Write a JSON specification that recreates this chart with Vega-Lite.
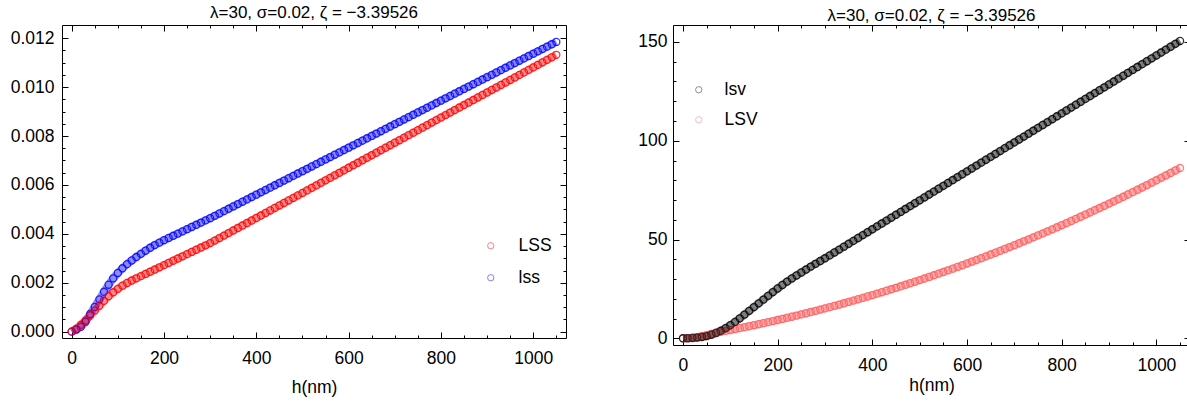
{
"$schema": "https://vega.github.io/schema/vega-lite/v6.json",
"autosize": {"type": "pad"},
"padding": {"left": 9, "top": 3, "right": 1, "bottom": 0},
"background": "white",
"config": {
  "font": "Liberation Sans",
  "view": {"stroke": "black", "strokeWidth": 1},
  "axis": {"labelFont": "Liberation Sans", "titleFont": "Liberation Sans", "labelColor": "black", "titleColor": "black", "tickColor": "black", "tickWidth": 1, "grid": false},
  "legend": {"labelFont": "Liberation Sans", "labelColor": "black"},
  "concat": {"spacing": 64}
},
"resolve": {"scale": {"color": "independent", "stroke": "independent"}, "legend": {"color": "independent"}},
"datasets": {
"left": [
{"h":0,"v":0,"s":"lss"},{"h":10,"v":0.00008,"s":"lss"},{"h":20,"v":0.0002,"s":"lss"},{"h":30,"v":0.0004,"s":"lss"},{"h":40,"v":0.00072,"s":"lss"},{"h":50,"v":0.00101,"s":"lss"},{"h":60,"v":0.00132,"s":"lss"},{"h":70,"v":0.00163,"s":"lss"},{"h":80,"v":0.00192,"s":"lss"},{"h":90,"v":0.00218,"s":"lss"},
{"h":100,"v":0.0024,"s":"lss"},{"h":110,"v":0.00259,"s":"lss"},{"h":120,"v":0.00276,"s":"lss"},{"h":130,"v":0.00291,"s":"lss"},{"h":140,"v":0.00305,"s":"lss"},{"h":150,"v":0.00318,"s":"lss"},{"h":160,"v":0.00331,"s":"lss"},{"h":170,"v":0.00343,"s":"lss"},{"h":180,"v":0.00354,"s":"lss"},{"h":190,"v":0.00364,"s":"lss"},
{"h":200,"v":0.00374,"s":"lss"},{"h":210,"v":0.00383,"s":"lss"},{"h":220,"v":0.00392,"s":"lss"},{"h":230,"v":0.00401,"s":"lss"},{"h":240,"v":0.0041,"s":"lss"},{"h":250,"v":0.00419,"s":"lss"},{"h":260,"v":0.00428,"s":"lss"},{"h":270,"v":0.00437,"s":"lss"},{"h":280,"v":0.00446,"s":"lss"},{"h":290,"v":0.00455,"s":"lss"},
{"h":300,"v":0.00464,"s":"lss"},{"h":310,"v":0.004736,"s":"lss"},{"h":320,"v":0.004832,"s":"lss"},{"h":330,"v":0.004928,"s":"lss"},{"h":340,"v":0.005024,"s":"lss"},{"h":350,"v":0.005121,"s":"lss"},{"h":360,"v":0.005217,"s":"lss"},{"h":370,"v":0.005313,"s":"lss"},{"h":380,"v":0.005409,"s":"lss"},{"h":390,"v":0.005505,"s":"lss"},
{"h":400,"v":0.005601,"s":"lss"},{"h":410,"v":0.005697,"s":"lss"},{"h":420,"v":0.005793,"s":"lss"},{"h":430,"v":0.005889,"s":"lss"},{"h":440,"v":0.005985,"s":"lss"},{"h":450,"v":0.006082,"s":"lss"},{"h":460,"v":0.006178,"s":"lss"},{"h":470,"v":0.006274,"s":"lss"},{"h":480,"v":0.00637,"s":"lss"},{"h":490,"v":0.006466,"s":"lss"},
{"h":500,"v":0.006562,"s":"lss"},{"h":510,"v":0.006658,"s":"lss"},{"h":520,"v":0.006754,"s":"lss"},{"h":530,"v":0.00685,"s":"lss"},{"h":540,"v":0.006946,"s":"lss"},{"h":550,"v":0.007043,"s":"lss"},{"h":560,"v":0.007139,"s":"lss"},{"h":570,"v":0.007235,"s":"lss"},{"h":580,"v":0.007331,"s":"lss"},{"h":590,"v":0.007427,"s":"lss"},
{"h":600,"v":0.007523,"s":"lss"},{"h":610,"v":0.007619,"s":"lss"},{"h":620,"v":0.007715,"s":"lss"},{"h":630,"v":0.007811,"s":"lss"},{"h":640,"v":0.007907,"s":"lss"},{"h":650,"v":0.008004,"s":"lss"},{"h":660,"v":0.0081,"s":"lss"},{"h":670,"v":0.008196,"s":"lss"},{"h":680,"v":0.008292,"s":"lss"},{"h":690,"v":0.008388,"s":"lss"},
{"h":700,"v":0.008484,"s":"lss"},{"h":710,"v":0.00858,"s":"lss"},{"h":720,"v":0.008676,"s":"lss"},{"h":730,"v":0.008772,"s":"lss"},{"h":740,"v":0.008868,"s":"lss"},{"h":750,"v":0.008965,"s":"lss"},{"h":760,"v":0.009061,"s":"lss"},{"h":770,"v":0.009157,"s":"lss"},{"h":780,"v":0.009253,"s":"lss"},{"h":790,"v":0.009349,"s":"lss"},
{"h":800,"v":0.009445,"s":"lss"},{"h":810,"v":0.009541,"s":"lss"},{"h":820,"v":0.009637,"s":"lss"},{"h":830,"v":0.009733,"s":"lss"},{"h":840,"v":0.009829,"s":"lss"},{"h":850,"v":0.009926,"s":"lss"},{"h":860,"v":0.010022,"s":"lss"},{"h":870,"v":0.010118,"s":"lss"},{"h":880,"v":0.010214,"s":"lss"},{"h":890,"v":0.01031,"s":"lss"},
{"h":900,"v":0.010406,"s":"lss"},{"h":910,"v":0.010502,"s":"lss"},{"h":920,"v":0.010598,"s":"lss"},{"h":930,"v":0.010694,"s":"lss"},{"h":940,"v":0.01079,"s":"lss"},{"h":950,"v":0.010887,"s":"lss"},{"h":960,"v":0.010983,"s":"lss"},{"h":970,"v":0.011079,"s":"lss"},{"h":980,"v":0.011175,"s":"lss"},{"h":990,"v":0.011271,"s":"lss"},
{"h":1000,"v":0.011367,"s":"lss"},{"h":1010,"v":0.011463,"s":"lss"},{"h":1020,"v":0.011559,"s":"lss"},{"h":1030,"v":0.011655,"s":"lss"},{"h":1040,"v":0.011751,"s":"lss"},{"h":1050,"v":0.011848,"s":"lss"},
{"h":0,"v":0,"s":"LSS"},{"h":10,"v":0.00012,"s":"LSS"},{"h":20,"v":0.00028,"s":"LSS"},{"h":30,"v":0.00046,"s":"LSS"},{"h":40,"v":0.00066,"s":"LSS"},{"h":50,"v":0.00086,"s":"LSS"},{"h":60,"v":0.00106,"s":"LSS"},{"h":70,"v":0.00126,"s":"LSS"},{"h":80,"v":0.00145,"s":"LSS"},{"h":90,"v":0.00161,"s":"LSS"},
{"h":100,"v":0.00175,"s":"LSS"},{"h":110,"v":0.00188,"s":"LSS"},{"h":120,"v":0.00199,"s":"LSS"},{"h":130,"v":0.00209,"s":"LSS"},{"h":140,"v":0.00218,"s":"LSS"},{"h":150,"v":0.00227,"s":"LSS"},{"h":160,"v":0.00236,"s":"LSS"},{"h":170,"v":0.00245,"s":"LSS"},{"h":180,"v":0.00254,"s":"LSS"},{"h":190,"v":0.00263,"s":"LSS"},
{"h":200,"v":0.00272,"s":"LSS"},{"h":210,"v":0.00281,"s":"LSS"},{"h":220,"v":0.0029,"s":"LSS"},{"h":230,"v":0.00299,"s":"LSS"},{"h":240,"v":0.00308,"s":"LSS"},{"h":250,"v":0.00317,"s":"LSS"},{"h":260,"v":0.00326,"s":"LSS"},{"h":270,"v":0.00335,"s":"LSS"},{"h":280,"v":0.00344,"s":"LSS"},{"h":290,"v":0.00353,"s":"LSS"},
{"h":300,"v":0.00362,"s":"LSS"},{"h":310,"v":0.003723,"s":"LSS"},{"h":320,"v":0.003825,"s":"LSS"},{"h":330,"v":0.003928,"s":"LSS"},{"h":340,"v":0.004031,"s":"LSS"},{"h":350,"v":0.004134,"s":"LSS"},{"h":360,"v":0.004236,"s":"LSS"},{"h":370,"v":0.004339,"s":"LSS"},{"h":380,"v":0.004441,"s":"LSS"},{"h":390,"v":0.004544,"s":"LSS"},
{"h":400,"v":0.004647,"s":"LSS"},{"h":410,"v":0.004749,"s":"LSS"},{"h":420,"v":0.004852,"s":"LSS"},{"h":430,"v":0.004955,"s":"LSS"},{"h":440,"v":0.005057,"s":"LSS"},{"h":450,"v":0.00516,"s":"LSS"},{"h":460,"v":0.005263,"s":"LSS"},{"h":470,"v":0.005365,"s":"LSS"},{"h":480,"v":0.005468,"s":"LSS"},{"h":490,"v":0.005571,"s":"LSS"},
{"h":500,"v":0.005673,"s":"LSS"},{"h":510,"v":0.005776,"s":"LSS"},{"h":520,"v":0.005879,"s":"LSS"},{"h":530,"v":0.005981,"s":"LSS"},{"h":540,"v":0.006084,"s":"LSS"},{"h":550,"v":0.006187,"s":"LSS"},{"h":560,"v":0.006289,"s":"LSS"},{"h":570,"v":0.006392,"s":"LSS"},{"h":580,"v":0.006495,"s":"LSS"},{"h":590,"v":0.006597,"s":"LSS"},
{"h":600,"v":0.0067,"s":"LSS"},{"h":610,"v":0.006803,"s":"LSS"},{"h":620,"v":0.006905,"s":"LSS"},{"h":630,"v":0.007008,"s":"LSS"},{"h":640,"v":0.007111,"s":"LSS"},{"h":650,"v":0.007213,"s":"LSS"},{"h":660,"v":0.007316,"s":"LSS"},{"h":670,"v":0.007419,"s":"LSS"},{"h":680,"v":0.007521,"s":"LSS"},{"h":690,"v":0.007624,"s":"LSS"},
{"h":700,"v":0.007727,"s":"LSS"},{"h":710,"v":0.007829,"s":"LSS"},{"h":720,"v":0.007932,"s":"LSS"},{"h":730,"v":0.008035,"s":"LSS"},{"h":740,"v":0.008137,"s":"LSS"},{"h":750,"v":0.00824,"s":"LSS"},{"h":760,"v":0.008343,"s":"LSS"},{"h":770,"v":0.008445,"s":"LSS"},{"h":780,"v":0.008548,"s":"LSS"},{"h":790,"v":0.008651,"s":"LSS"},
{"h":800,"v":0.008753,"s":"LSS"},{"h":810,"v":0.008856,"s":"LSS"},{"h":820,"v":0.008959,"s":"LSS"},{"h":830,"v":0.009061,"s":"LSS"},{"h":840,"v":0.009164,"s":"LSS"},{"h":850,"v":0.009267,"s":"LSS"},{"h":860,"v":0.009369,"s":"LSS"},{"h":870,"v":0.009472,"s":"LSS"},{"h":880,"v":0.009575,"s":"LSS"},{"h":890,"v":0.009677,"s":"LSS"},
{"h":900,"v":0.00978,"s":"LSS"},{"h":910,"v":0.009883,"s":"LSS"},{"h":920,"v":0.009985,"s":"LSS"},{"h":930,"v":0.010088,"s":"LSS"},{"h":940,"v":0.010191,"s":"LSS"},{"h":950,"v":0.010293,"s":"LSS"},{"h":960,"v":0.010396,"s":"LSS"},{"h":970,"v":0.010499,"s":"LSS"},{"h":980,"v":0.010601,"s":"LSS"},{"h":990,"v":0.010704,"s":"LSS"},
{"h":1000,"v":0.010807,"s":"LSS"},{"h":1010,"v":0.010909,"s":"LSS"},{"h":1020,"v":0.011012,"s":"LSS"},{"h":1030,"v":0.011115,"s":"LSS"},{"h":1040,"v":0.011217,"s":"LSS"},{"h":1050,"v":0.01132,"s":"LSS"}
],
"right": [
{"h":0,"v":0,"s":"LSV"},{"h":10,"v":0.05,"s":"LSV"},{"h":20,"v":0.3,"s":"LSV"},{"h":30,"v":0.6,"s":"LSV"},{"h":40,"v":1.0,"s":"LSV"},{"h":50,"v":1.6,"s":"LSV"},{"h":60,"v":2.2,"s":"LSV"},{"h":70,"v":2.8,"s":"LSV"},{"h":80,"v":3.3,"s":"LSV"},{"h":90,"v":3.74,"s":"LSV"},
{"h":100,"v":4.2,"s":"LSV"},{"h":110,"v":4.67,"s":"LSV"},{"h":120,"v":5.14,"s":"LSV"},{"h":130,"v":5.63,"s":"LSV"},{"h":140,"v":6.12,"s":"LSV"},{"h":150,"v":6.62,"s":"LSV"},{"h":160,"v":7.13,"s":"LSV"},{"h":170,"v":7.65,"s":"LSV"},{"h":180,"v":8.17,"s":"LSV"},{"h":190,"v":8.71,"s":"LSV"},
{"h":200,"v":9.25,"s":"LSV"},{"h":210,"v":9.8,"s":"LSV"},{"h":220,"v":10.36,"s":"LSV"},{"h":230,"v":10.93,"s":"LSV"},{"h":240,"v":11.5,"s":"LSV"},{"h":250,"v":12.09,"s":"LSV"},{"h":260,"v":12.68,"s":"LSV"},{"h":270,"v":13.28,"s":"LSV"},{"h":280,"v":13.89,"s":"LSV"},{"h":290,"v":14.51,"s":"LSV"},
{"h":300,"v":15.14,"s":"LSV"},{"h":310,"v":15.77,"s":"LSV"},{"h":320,"v":16.42,"s":"LSV"},{"h":330,"v":17.07,"s":"LSV"},{"h":340,"v":17.73,"s":"LSV"},{"h":350,"v":18.4,"s":"LSV"},{"h":360,"v":19.08,"s":"LSV"},{"h":370,"v":19.76,"s":"LSV"},{"h":380,"v":20.46,"s":"LSV"},{"h":390,"v":21.16,"s":"LSV"},
{"h":400,"v":21.87,"s":"LSV"},{"h":410,"v":22.59,"s":"LSV"},{"h":420,"v":23.32,"s":"LSV"},{"h":430,"v":24.06,"s":"LSV"},{"h":440,"v":24.8,"s":"LSV"},{"h":450,"v":25.55,"s":"LSV"},{"h":460,"v":26.32,"s":"LSV"},{"h":470,"v":27.09,"s":"LSV"},{"h":480,"v":27.86,"s":"LSV"},{"h":490,"v":28.65,"s":"LSV"},
{"h":500,"v":29.45,"s":"LSV"},{"h":510,"v":30.25,"s":"LSV"},{"h":520,"v":31.06,"s":"LSV"},{"h":530,"v":31.89,"s":"LSV"},{"h":540,"v":32.72,"s":"LSV"},{"h":550,"v":33.55,"s":"LSV"},{"h":560,"v":34.4,"s":"LSV"},{"h":570,"v":35.25,"s":"LSV"},{"h":580,"v":36.12,"s":"LSV"},{"h":590,"v":36.99,"s":"LSV"},
{"h":600,"v":37.87,"s":"LSV"},{"h":610,"v":38.76,"s":"LSV"},{"h":620,"v":39.65,"s":"LSV"},{"h":630,"v":40.56,"s":"LSV"},{"h":640,"v":41.47,"s":"LSV"},{"h":650,"v":42.4,"s":"LSV"},{"h":660,"v":43.33,"s":"LSV"},{"h":670,"v":44.27,"s":"LSV"},{"h":680,"v":45.21,"s":"LSV"},{"h":690,"v":46.17,"s":"LSV"},
{"h":700,"v":47.13,"s":"LSV"},{"h":710,"v":48.11,"s":"LSV"},{"h":720,"v":49.09,"s":"LSV"},{"h":730,"v":50.08,"s":"LSV"},{"h":740,"v":51.08,"s":"LSV"},{"h":750,"v":52.08,"s":"LSV"},{"h":760,"v":53.1,"s":"LSV"},{"h":770,"v":54.12,"s":"LSV"},{"h":780,"v":55.15,"s":"LSV"},{"h":790,"v":56.19,"s":"LSV"},
{"h":800,"v":57.24,"s":"LSV"},{"h":810,"v":58.3,"s":"LSV"},{"h":820,"v":59.37,"s":"LSV"},{"h":830,"v":60.44,"s":"LSV"},{"h":840,"v":61.52,"s":"LSV"},{"h":850,"v":62.61,"s":"LSV"},{"h":860,"v":63.71,"s":"LSV"},{"h":870,"v":64.82,"s":"LSV"},{"h":880,"v":65.94,"s":"LSV"},{"h":890,"v":67.06,"s":"LSV"},
{"h":900,"v":68.19,"s":"LSV"},{"h":910,"v":69.34,"s":"LSV"},{"h":920,"v":70.49,"s":"LSV"},{"h":930,"v":71.64,"s":"LSV"},{"h":940,"v":72.81,"s":"LSV"},{"h":950,"v":73.99,"s":"LSV"},{"h":960,"v":75.17,"s":"LSV"},{"h":970,"v":76.36,"s":"LSV"},{"h":980,"v":77.56,"s":"LSV"},{"h":990,"v":78.77,"s":"LSV"},
{"h":1000,"v":79.99,"s":"LSV"},{"h":1010,"v":81.22,"s":"LSV"},{"h":1020,"v":82.45,"s":"LSV"},{"h":1030,"v":83.69,"s":"LSV"},{"h":1040,"v":84.95,"s":"LSV"},{"h":1050,"v":86.2,"s":"LSV"},
{"h":0,"v":0,"s":"lsv"},{"h":10,"v":0.05,"s":"lsv"},{"h":20,"v":0.15,"s":"lsv"},{"h":30,"v":0.35,"s":"lsv"},{"h":40,"v":0.65,"s":"lsv"},{"h":50,"v":1.1,"s":"lsv"},{"h":60,"v":1.8,"s":"lsv"},{"h":70,"v":2.7,"s":"lsv"},{"h":80,"v":3.8,"s":"lsv"},{"h":90,"v":5.1,"s":"lsv"},
{"h":100,"v":6.6,"s":"lsv"},{"h":110,"v":8.3,"s":"lsv"},{"h":120,"v":10.1,"s":"lsv"},{"h":130,"v":12.0,"s":"lsv"},{"h":140,"v":13.9,"s":"lsv"},{"h":150,"v":15.8,"s":"lsv"},{"h":160,"v":17.7,"s":"lsv"},{"h":170,"v":19.6,"s":"lsv"},{"h":180,"v":21.5,"s":"lsv"},{"h":190,"v":23.4,"s":"lsv"},
{"h":200,"v":25.2,"s":"lsv"},{"h":210,"v":27.0,"s":"lsv"},{"h":220,"v":28.7,"s":"lsv"},{"h":230,"v":30.3,"s":"lsv"},{"h":240,"v":31.8,"s":"lsv"},{"h":250,"v":33.3,"s":"lsv"},{"h":260,"v":34.8,"s":"lsv"},{"h":270,"v":36.3,"s":"lsv"},{"h":280,"v":37.7,"s":"lsv"},{"h":290,"v":39.1,"s":"lsv"},
{"h":300,"v":40.5,"s":"lsv"},{"h":310,"v":41.97,"s":"lsv"},{"h":320,"v":43.43,"s":"lsv"},{"h":330,"v":44.9,"s":"lsv"},{"h":340,"v":46.37,"s":"lsv"},{"h":350,"v":47.84,"s":"lsv"},{"h":360,"v":49.3,"s":"lsv"},{"h":370,"v":50.77,"s":"lsv"},{"h":380,"v":52.24,"s":"lsv"},{"h":390,"v":53.7,"s":"lsv"},
{"h":400,"v":55.17,"s":"lsv"},{"h":410,"v":56.64,"s":"lsv"},{"h":420,"v":58.1,"s":"lsv"},{"h":430,"v":59.57,"s":"lsv"},{"h":440,"v":61.04,"s":"lsv"},{"h":450,"v":62.51,"s":"lsv"},{"h":460,"v":63.97,"s":"lsv"},{"h":470,"v":65.44,"s":"lsv"},{"h":480,"v":66.91,"s":"lsv"},{"h":490,"v":68.37,"s":"lsv"},
{"h":500,"v":69.84,"s":"lsv"},{"h":510,"v":71.31,"s":"lsv"},{"h":520,"v":72.77,"s":"lsv"},{"h":530,"v":74.24,"s":"lsv"},{"h":540,"v":75.71,"s":"lsv"},{"h":550,"v":77.18,"s":"lsv"},{"h":560,"v":78.64,"s":"lsv"},{"h":570,"v":80.11,"s":"lsv"},{"h":580,"v":81.58,"s":"lsv"},{"h":590,"v":83.04,"s":"lsv"},
{"h":600,"v":84.51,"s":"lsv"},{"h":610,"v":85.98,"s":"lsv"},{"h":620,"v":87.44,"s":"lsv"},{"h":630,"v":88.91,"s":"lsv"},{"h":640,"v":90.38,"s":"lsv"},{"h":650,"v":91.85,"s":"lsv"},{"h":660,"v":93.31,"s":"lsv"},{"h":670,"v":94.78,"s":"lsv"},{"h":680,"v":96.25,"s":"lsv"},{"h":690,"v":97.71,"s":"lsv"},
{"h":700,"v":99.18,"s":"lsv"},{"h":710,"v":100.65,"s":"lsv"},{"h":720,"v":102.11,"s":"lsv"},{"h":730,"v":103.58,"s":"lsv"},{"h":740,"v":105.05,"s":"lsv"},{"h":750,"v":106.52,"s":"lsv"},{"h":760,"v":107.98,"s":"lsv"},{"h":770,"v":109.45,"s":"lsv"},{"h":780,"v":110.92,"s":"lsv"},{"h":790,"v":112.38,"s":"lsv"},
{"h":800,"v":113.85,"s":"lsv"},{"h":810,"v":115.32,"s":"lsv"},{"h":820,"v":116.78,"s":"lsv"},{"h":830,"v":118.25,"s":"lsv"},{"h":840,"v":119.72,"s":"lsv"},{"h":850,"v":121.19,"s":"lsv"},{"h":860,"v":122.65,"s":"lsv"},{"h":870,"v":124.12,"s":"lsv"},{"h":880,"v":125.59,"s":"lsv"},{"h":890,"v":127.05,"s":"lsv"},
{"h":900,"v":128.52,"s":"lsv"},{"h":910,"v":129.99,"s":"lsv"},{"h":920,"v":131.45,"s":"lsv"},{"h":930,"v":132.92,"s":"lsv"},{"h":940,"v":134.39,"s":"lsv"},{"h":950,"v":135.86,"s":"lsv"},{"h":960,"v":137.32,"s":"lsv"},{"h":970,"v":138.79,"s":"lsv"},{"h":980,"v":140.26,"s":"lsv"},{"h":990,"v":141.72,"s":"lsv"},
{"h":1000,"v":143.19,"s":"lsv"},{"h":1010,"v":144.66,"s":"lsv"},{"h":1020,"v":146.12,"s":"lsv"},{"h":1030,"v":147.59,"s":"lsv"},{"h":1040,"v":149.06,"s":"lsv"},{"h":1050,"v":150.53,"s":"lsv"}
]
},
"hconcat": [
{
  "width": 504, "height": 313,
  "title": {"text": "λ=30, σ=0.02, ζ = −3.39526", "offset": 3, "frame": "group", "anchor": "middle", "fontSize": 17, "fontWeight": "normal", "font": "Liberation Sans", "color": "black"},
  "data": {"name": "left"},
  "layer": [
    {
      "mark": {"type": "point", "size": 50, "strokeWidth": 1.3, "opacity": 0.8},
      "encoding": {
        "x": {"field": "h", "type": "quantitative", "scale": {"domain": [-21, 1071], "nice": false, "zero": false},
              "axis": {"values": [0, 200, 400, 600, 800, 1000], "format": "d", "ticks": false, "domain": false, "labelFontSize": 17.5, "labelPadding": 11, "labelFlush": false, "labelOverlap": false, "title": "h(nm)", "titleFontSize": 17.5, "titleFontWeight": "normal", "titlePadding": 12}},
        "y": {"field": "v", "type": "quantitative", "scale": {"domain": [-0.00026, 0.01254], "nice": false, "zero": false},
              "axis": {"values": [0, 0.002, 0.004, 0.006, 0.008, 0.01, 0.012], "format": ".3f", "ticks": false, "domain": false, "labelFontSize": 17.5, "labelPadding": 8, "labelFlush": false, "labelOverlap": false, "title": null}},
        "color": {"field": "s", "type": "nominal", "scale": {"domain": ["LSS", "lss"], "range": ["#ff0000", "#0000ff"]},
                  "legend": {"orient": "none", "legendX": 420, "legendY": 212, "title": null, "padding": 0, "symbolType": "circle", "symbolSize": 40, "symbolStrokeWidth": 1, "symbolOpacity": 0.5, "labelFontSize": 17.5, "labelOffset": 19, "rowPadding": 13}}
      }
    },
    {
      "mark": {"type": "line", "strokeWidth": 8, "opacity": 0.45},
      "encoding": {
        "x": {"field": "h", "type": "quantitative", "scale": {"domain": [-21, 1071], "nice": false, "zero": false}, "axis": null},
        "y": {"field": "v", "type": "quantitative", "scale": {"domain": [-0.00026, 0.01254], "nice": false, "zero": false}, "axis": null},
        "stroke": {"field": "s", "type": "nominal", "scale": {"domain": ["LSS", "lss"], "range": ["#ff0000", "#0000ff"]}, "legend": null}
      }
    },
    {
      "mark": {"type": "point", "opacity": 0},
      "encoding": {
        "x": {"field": "h", "type": "quantitative", "scale": {"domain": [-21, 1071], "nice": false, "zero": false}, "axis": {"orient": "bottom", "values": [0,200,400,600,800,1000], "labels": false, "domain": false, "title": null, "tickSize": 6, "offset": -6}},
        "y": {"field": "v", "type": "quantitative", "scale": {"domain": [-0.00026, 0.01254], "nice": false, "zero": false}, "axis": {"orient": "left", "values": [0,0.002,0.004,0.006,0.008,0.01,0.012], "labels": false, "domain": false, "title": null, "tickSize": 6, "offset": -6}}
      }
    },
    {
      "mark": {"type": "point", "opacity": 0},
      "encoding": {
        "x": {"field": "h", "type": "quantitative", "scale": {"domain": [-21, 1071], "nice": false, "zero": false}, "axis": {"orient": "bottom", "values": [50,100,150,250,300,350,450,500,550,650,700,750,850,900,950,1050], "labels": false, "domain": false, "title": null, "tickSize": 3, "offset": -3}},
        "y": {"field": "v", "type": "quantitative", "scale": {"domain": [-0.00026, 0.01254], "nice": false, "zero": false}, "axis": {"orient": "left", "values": [0.0005,0.001,0.0015,0.0025,0.003,0.0035,0.0045,0.005,0.0055,0.0065,0.007,0.0075,0.0085,0.009,0.0095,0.0105,0.011,0.0115], "labels": false, "domain": false, "title": null, "tickSize": 3, "offset": -3}}
      }
    },
    {
      "mark": {"type": "point", "opacity": 0},
      "encoding": {
        "x": {"field": "h", "type": "quantitative", "scale": {"domain": [-21, 1071], "nice": false, "zero": false}, "axis": {"orient": "top", "values": [0,200,400,600,800,1000], "labels": false, "domain": false, "title": null, "tickSize": 6, "offset": -6}},
        "y": {"field": "v", "type": "quantitative", "scale": {"domain": [-0.00026, 0.01254], "nice": false, "zero": false}, "axis": {"orient": "right", "values": [0,0.002,0.004,0.006,0.008,0.01,0.012], "labels": false, "domain": false, "title": null, "tickSize": 6, "offset": -6}}
      }
    },
    {
      "mark": {"type": "point", "opacity": 0},
      "encoding": {
        "x": {"field": "h", "type": "quantitative", "scale": {"domain": [-21, 1071], "nice": false, "zero": false}, "axis": {"orient": "top", "values": [50,100,150,250,300,350,450,500,550,650,700,750,850,900,950,1050], "labels": false, "domain": false, "title": null, "tickSize": 3, "offset": -3}},
        "y": {"field": "v", "type": "quantitative", "scale": {"domain": [-0.00026, 0.01254], "nice": false, "zero": false}, "axis": {"orient": "right", "values": [0.0005,0.001,0.0015,0.0025,0.003,0.0035,0.0045,0.005,0.0055,0.0065,0.007,0.0075,0.0085,0.009,0.0095,0.0105,0.011,0.0115], "labels": false, "domain": false, "title": null, "tickSize": 3, "offset": -3}}
      }
    }
  ],
  "resolve": {"scale": {"x": "independent", "y": "independent"}, "axis": {"x": "independent", "y": "independent"}}
},
{
  "width": 517, "height": 320,
  "title": {"text": "λ=30, σ=0.02, ζ = −3.39526", "offset": 0, "frame": "group", "anchor": "middle", "fontSize": 17, "fontWeight": "normal", "font": "Liberation Sans", "color": "black"},
  "data": {"name": "right"},
  "layer": [
    {
      "mark": {"type": "point", "size": 50, "strokeWidth": 1.3, "opacity": 0.8},
      "encoding": {
        "x": {"field": "h", "type": "quantitative", "scale": {"domain": [-21, 1071], "nice": false, "zero": false},
              "axis": {"values": [0, 200, 400, 600, 800, 1000], "format": "d", "ticks": false, "domain": false, "labelFontSize": 17.5, "labelPadding": 11, "labelFlush": false, "labelOverlap": false, "title": "h(nm)", "titleFontSize": 17.5, "titleFontWeight": "normal", "titlePadding": 3}},
        "y": {"field": "v", "type": "quantitative", "scale": {"domain": [-3.4, 158.6], "nice": false, "zero": false},
              "axis": {"values": [0, 50, 100, 150], "ticks": false, "domain": false, "labelFontSize": 17.5, "labelPadding": 6, "labelFlush": false, "labelOverlap": false, "title": null}},
        "color": {"field": "s", "type": "nominal", "scale": {"domain": ["lsv", "LSV"], "range": ["#000000", "#ff6060"]},
                  "legend": {"orient": "none", "legendX": 17, "legendY": 56, "title": null, "padding": 0, "symbolType": "circle", "symbolSize": 40, "symbolStrokeWidth": 1, "symbolOpacity": 0.45, "labelFontSize": 17.5, "labelOffset": 17, "rowPadding": 11}}
      }
    },
    {
      "mark": {"type": "line", "strokeWidth": 8, "opacity": 0.5},
      "encoding": {
        "x": {"field": "h", "type": "quantitative", "scale": {"domain": [-21, 1071], "nice": false, "zero": false}, "axis": null},
        "y": {"field": "v", "type": "quantitative", "scale": {"domain": [-3.4, 158.6], "nice": false, "zero": false}, "axis": null},
        "stroke": {"field": "s", "type": "nominal", "scale": {"domain": ["lsv", "LSV"], "range": ["#000000", "#ff5c5c"]}, "legend": null}
      }
    },
    {
      "mark": {"type": "point", "opacity": 0},
      "encoding": {
        "x": {"field": "h", "type": "quantitative", "scale": {"domain": [-21, 1071], "nice": false, "zero": false}, "axis": {"orient": "bottom", "values": [0,200,400,600,800,1000], "labels": false, "domain": false, "title": null, "tickSize": 6, "offset": -6}},
        "y": {"field": "v", "type": "quantitative", "scale": {"domain": [-3.4, 158.6], "nice": false, "zero": false}, "axis": {"orient": "left", "values": [0,50,100,150], "labels": false, "domain": false, "title": null, "tickSize": 6, "offset": -6}}
      }
    },
    {
      "mark": {"type": "point", "opacity": 0},
      "encoding": {
        "x": {"field": "h", "type": "quantitative", "scale": {"domain": [-21, 1071], "nice": false, "zero": false}, "axis": {"orient": "bottom", "values": [50,100,150,250,300,350,450,500,550,650,700,750,850,900,950,1050], "labels": false, "domain": false, "title": null, "tickSize": 3, "offset": -3}},
        "y": {"field": "v", "type": "quantitative", "scale": {"domain": [-3.4, 158.6], "nice": false, "zero": false}, "axis": {"orient": "left", "values": [10,20,30,40,60,70,80,90,110,120,130,140], "labels": false, "domain": false, "title": null, "tickSize": 3, "offset": -3}}
      }
    },
    {
      "mark": {"type": "point", "opacity": 0},
      "encoding": {
        "x": {"field": "h", "type": "quantitative", "scale": {"domain": [-21, 1071], "nice": false, "zero": false}, "axis": {"orient": "top", "values": [0,200,400,600,800,1000], "labels": false, "domain": false, "title": null, "tickSize": 6, "offset": -6}},
        "y": {"field": "v", "type": "quantitative", "scale": {"domain": [-3.4, 158.6], "nice": false, "zero": false}, "axis": {"orient": "right", "values": [0,50,100,150], "labels": false, "domain": false, "title": null, "tickSize": 6, "offset": -6}}
      }
    },
    {
      "mark": {"type": "point", "opacity": 0},
      "encoding": {
        "x": {"field": "h", "type": "quantitative", "scale": {"domain": [-21, 1071], "nice": false, "zero": false}, "axis": {"orient": "top", "values": [50,100,150,250,300,350,450,500,550,650,700,750,850,900,950,1050], "labels": false, "domain": false, "title": null, "tickSize": 3, "offset": -3}},
        "y": {"field": "v", "type": "quantitative", "scale": {"domain": [-3.4, 158.6], "nice": false, "zero": false}, "axis": {"orient": "right", "values": [10,20,30,40,60,70,80,90,110,120,130,140], "labels": false, "domain": false, "title": null, "tickSize": 3, "offset": -3}}
      }
    }
  ],
  "resolve": {"scale": {"x": "independent", "y": "independent"}, "axis": {"x": "independent", "y": "independent"}}
}
]
}
